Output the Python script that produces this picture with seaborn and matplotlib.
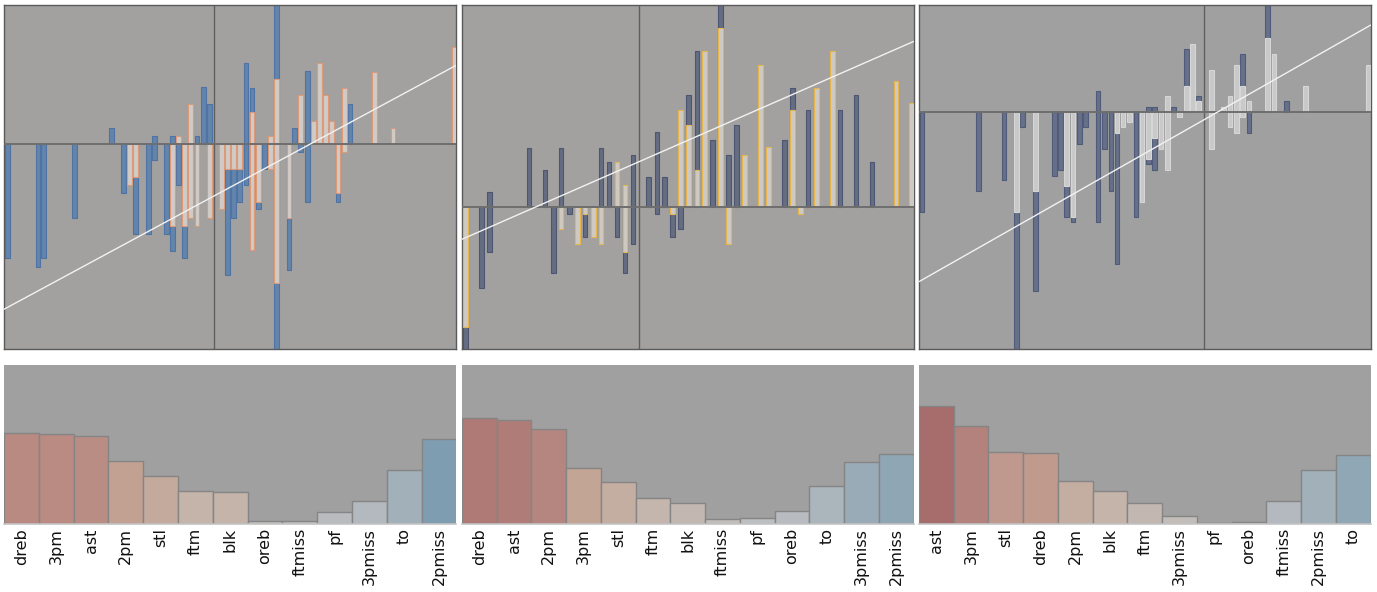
import matplotlib
matplotlib.use("Agg")
import matplotlib.pyplot as plt
from matplotlib.colors import LinearSegmentedColormap, Normalize
import pandas as pd
import seaborn as sns

# ---------------- top panels: per-player bars around a zero baseline ----------------
# panel 1
p1_dark_x = [-20.7, -17.63, -17.1, -14.0, -10.31, -9.1, -7.86, -6.6, -6.0, -6.0, -4.8, -4.2, -4.2,
             -3.6, -2.96, -1.73, -1.1, -0.5, 1.34, 1.9, 2.54, 3.17, 3.17, 3.77, 4.4, 5.0, 6.24, 6.24,
             7.47, 8.04, 8.64, 9.3, 9.3, 12.37, 13.57]
p1_dark_v = [-11.4, -12.24, -11.4, -7.34, 1.6, -4.9, -9.0, -9.0, 0.8, -1.6, -9.0, 0.8, -10.63,
             -4.07, -11.4, 0.8, 5.7, 4.07, -13.07, -7.33, -5.73, 8.1, -4.07, 5.63, -6.5, -2.47, 16.0, -22.0,
             -12.6, 1.6, -0.73, 7.33, -5.73, -5.73, 4.07]
p1_light_x = [-8.5, -7.86, -4.2, -3.6, -2.96, -2.36, -2.36, -1.73, -0.5, 0.74, 1.34, 1.9, 2.54, 3.77,
              3.77, 4.4, 5.64, 5.64, 6.24, 6.24, 7.47, 8.64, 9.9, 10.54, 11.14, 11.74, 12.37, 13.0,
              13.0, 16.04, 17.87, 24.0]
p1_light_v = [-4.07, -3.3, -8.17, 0.8, -8.17, 4.07, -7.33, -8.17, -7.33, -6.5, -2.47, -2.47, -2.47, 3.2,
              -10.57, -5.73, 0.8, -2.47, 6.53, -13.9, -7.4, 4.93, 2.37, 8.1, 4.93, 2.37, -4.9, 5.67,
              -0.8, 7.27, 1.6, 9.77]
p1_fit = (0.5395, -5.15)          # slope, intercept
p1_xlim = (-21.03, 24.22)
p1_ylim = (-20.5, 13.9)

# panel 2
p2_dark_x = [-17.4, -15.76, -14.96, -14.96, -11.03, -9.43, -8.57, -7.83, -6.96, -5.43, -3.83, -3.03,
             -2.23, -1.43, -0.63, -0.63, 0.94, 1.77, 1.77, 2.54, 3.34, 4.14, 4.9, 5.77, 7.34, 8.14,
             8.94, 9.74, 14.54, 15.3, 16.87, 20.07, 21.67, 23.27]
p2_dark_v = [-14.5, -8.17, 1.43, -4.5, 5.9, 3.7, -6.67, 5.9, -0.77, -3.0, 5.9, 4.43,
             -3.0, -6.67, 5.17, -3.77, 2.93, 7.43, -0.77, 2.93, -3.0, -2.27, 11.17, 15.6, 6.7, 21.0,
             5.2, 8.17, 6.7, 11.9, 9.63, 9.63, 11.17, 4.47]
p2_light_x = [-17.4, -7.83, -6.2, -5.43, -4.6, -3.83, -2.23, -1.43, -1.43, 3.34, 4.14, 4.9, 5.77,
              6.54, 8.14, 8.94, 10.54, 12.14, 12.94, 15.3, 16.14, 17.74, 19.34, 25.67, 27.24]
p2_light_v = [-12.0, -2.27, -3.77, -0.77, -3.0, -3.77, 4.43, 2.17, -4.5, -0.77, 9.63, 8.17, 3.7,
              15.6, 17.83, -3.77, 5.2, 14.13, 5.93, 9.63, -0.77, 11.9, 15.6, 12.6, 10.4]
p2_fit = (0.438, 4.51)
p2_xlim = (-17.73, 27.44)
p2_ylim = (-14.26, 20.14)

# panel 3
p3_dark_x = [-28.23, -22.57, -20.03, -18.8, -18.2, -16.86, -15.0, -14.4, -13.8, -13.13, -12.5, -11.86,
             -10.63, -10.63, -9.96, -9.33, -8.73, -6.83, -5.6, -5.6, -4.96, -4.96, -3.06, -1.8, -0.56,
             3.8, 4.47, 6.34, 8.24]
p3_dark_v = [-10.0, -7.9, -6.87, -25.0, -1.57, -17.9, -6.4, -5.8, -10.53, -11.07, -3.2, -1.57,
             2.03, -11.07, -3.7, -7.9, -15.27, -10.53, 0.5, -5.27, 0.5, -5.8, 0.5, 6.3, 1.57,
             5.73, -2.13, 12.0, 1.03]
p3_light_x = [-18.8, -16.86, -13.8, -13.13, -8.73, -8.13, -7.5, -6.23, -5.6, -4.96, -4.33, -3.7, -3.7,
              -2.46, -1.8, -1.2, -0.56, 0.7, 0.7, 1.94, 2.57, 2.57, 3.2, 3.2, 3.8, 3.8, 4.47, 6.34,
              6.97, 10.14, 16.4]
p3_light_v = [-10.0, -7.9, -7.43, -10.53, -2.13, -1.57, -1.07, -9.0, -4.73, -2.67, -3.73, 1.53, -5.8,
              -0.57, 2.6, 6.77, 1.03, 4.13, -3.73, 0.5, 1.57, -1.57, 4.7, -2.13, 2.6, -0.57, 1.03, 7.33,
              5.73, 2.6, 4.7]
p3_fit = (0.568, -0.79)
p3_xlim = (-28.53, 16.64)
p3_ylim = (-23.76, 10.64)

# ---------------- bottom panels: stat contributions ----------------
b1_stats = ["dreb", "3pm", "ast", "2pm", "stl", "ftm", "blk", "oreb", "ftmiss", "pf", "3pmiss", "to", "2pmiss"]
b1_vals = [0.907, 0.897, 0.877, 0.627, 0.477, 0.327, 0.317, 0.033, -0.033, -0.117, -0.227, -0.537, -0.847]
b2_stats = ["dreb", "ast", "2pm", "3pm", "stl", "ftm", "blk", "ftmiss", "pf", "oreb", "to", "3pmiss", "2pmiss"]
b2_vals = [1.057, 1.037, 0.95, 0.557, 0.417, 0.263, 0.213, 0.053, -0.063, -0.13, -0.377, -0.623, -0.703]
b3_stats = ["ast", "3pm", "stl", "dreb", "2pm", "blk", "ftm", "3pmiss", "pf", "oreb", "ftmiss", "2pmiss", "to"]
b3_vals = [1.183, 0.977, 0.717, 0.707, 0.427, 0.327, 0.207, 0.083, 0.007, -0.017, -0.227, -0.537, -0.687]
b_ylim = (0, 1.59)

# ---------------- styling ----------------
sns.set_theme(style="white")
plt.rcParams["font.family"] = ["DejaVu Sans"]

top_styles = [
    dict(dark="#6384ab", dark_edge="#4f73a5", light="#cfcbc8", light_edge="#dc9a78", bg="#a3a19f"),
    dict(dark="#656d81", dark_edge="#4c5672", light="#cdcac5", light_edge="#e6b54e", bg="#a3a19f"),
    dict(dark="#677089", dark_edge="#4f5b78", light="#c9c9c9", light_edge="#d6d6d6", bg="#a0a0a0"),
]

stops = [(-1.2, "#6f92ab"), (-0.85, "#7f9db0"), (-0.55, "#a0b0b9"), (-0.25, "#b2b9bf"),
         (-0.1, "#b9bcbf"), (0.0, "#c2c0be"), (0.3, "#c4b5ab"), (0.6, "#c3a393"),
         (0.9, "#b98b83"), (1.2, "#a66b6b")]
lo, hi = stops[0][0], stops[-1][0]
cmap = LinearSegmentedColormap.from_list(
    "contrib", [((v - lo) / (hi - lo), c) for v, c in stops])
norm = Normalize(vmin=lo, vmax=hi)

W, H = 1377, 592
fig = plt.figure(figsize=(W / 100, H / 100), dpi=100, facecolor="white")


def axes_px(x0, y0, x1, y1):
    return fig.add_axes([x0 / W, 1 - y1 / H, (x1 - x0) / W, (y1 - y0) / H])


cols = [(4, 456.5), (462, 913.7), (919, 1370.7)]

tops = [
    (p1_dark_x, p1_dark_v, p1_light_x, p1_light_v, p1_fit, p1_xlim, p1_ylim),
    (p2_dark_x, p2_dark_v, p2_light_x, p2_light_v, p2_fit, p2_xlim, p2_ylim),
    (p3_dark_x, p3_dark_v, p3_light_x, p3_light_v, p3_fit, p3_xlim, p3_ylim),
]
bottoms = [(b1_stats, b1_vals), (b2_stats, b2_vals), (b3_stats, b3_vals)]

for (x0, x1), (dx, dv, lx, lv, fit, xlim, ylim), st in zip(cols, tops, top_styles):
    ax = axes_px(x0, 5.3, x1, 349.3)
    ax.set_facecolor(st["bg"])
    ax.axvline(0, color="#5f5f5f", lw=1.0, zorder=1)
    ax.bar(dx, dv, width=0.46, color=st["dark"], edgecolor=st["dark_edge"], linewidth=0.8, zorder=2)
    ax.bar(lx, lv, width=0.46, color=st["light"], edgecolor=st["light_edge"], linewidth=0.8, zorder=3)
    ax.axhline(0, color="#6e6e6e", lw=1.4, zorder=4)
    ax.axline((0, fit[1]), slope=fit[0], color="#f2f2f2", lw=1.0, zorder=5)
    ax.set_xlim(*xlim)
    ax.set_ylim(*ylim)
    ax.set_xticks([])
    ax.set_yticks([])
    for s in ax.spines.values():
        s.set_visible(True)
        s.set_color("#5a5a5a")
        s.set_linewidth(1.0)

for (x0, x1), (stats, vals) in zip(cols, bottoms):
    ax = axes_px(x0, 365, x1, 524)
    ax.set_facecolor("#a0a0a0")
    df = pd.DataFrame({"stat": stats, "value": vals})
    df["size"] = df["value"].abs()
    pal = {s: cmap(norm(v)) for s, v in zip(stats, vals)}
    sns.barplot(data=df, x="stat", y="size", hue="stat", palette=pal, order=stats,
                hue_order=stats, width=1.0, dodge=False, legend=False,
                edgecolor="#858585", linewidth=1.0, saturation=1, ax=ax)
    ax.set_xlim(-0.5, len(stats) - 0.5)
    ax.set_ylim(*b_ylim)
    ax.set_xlabel("")
    ax.set_ylabel("")
    ax.set_yticks([])
    ax.tick_params(axis="x", rotation=90, length=0, pad=3, labelsize=11.5, colors="#111111")
    for side in ("top", "left", "right"):
        ax.spines[side].set_visible(False)
    ax.spines["bottom"].set_color("#c4c4c4")
    ax.spines["bottom"].set_linewidth(1.2)

fig.savefig("out.png", dpi=100, facecolor="white")
